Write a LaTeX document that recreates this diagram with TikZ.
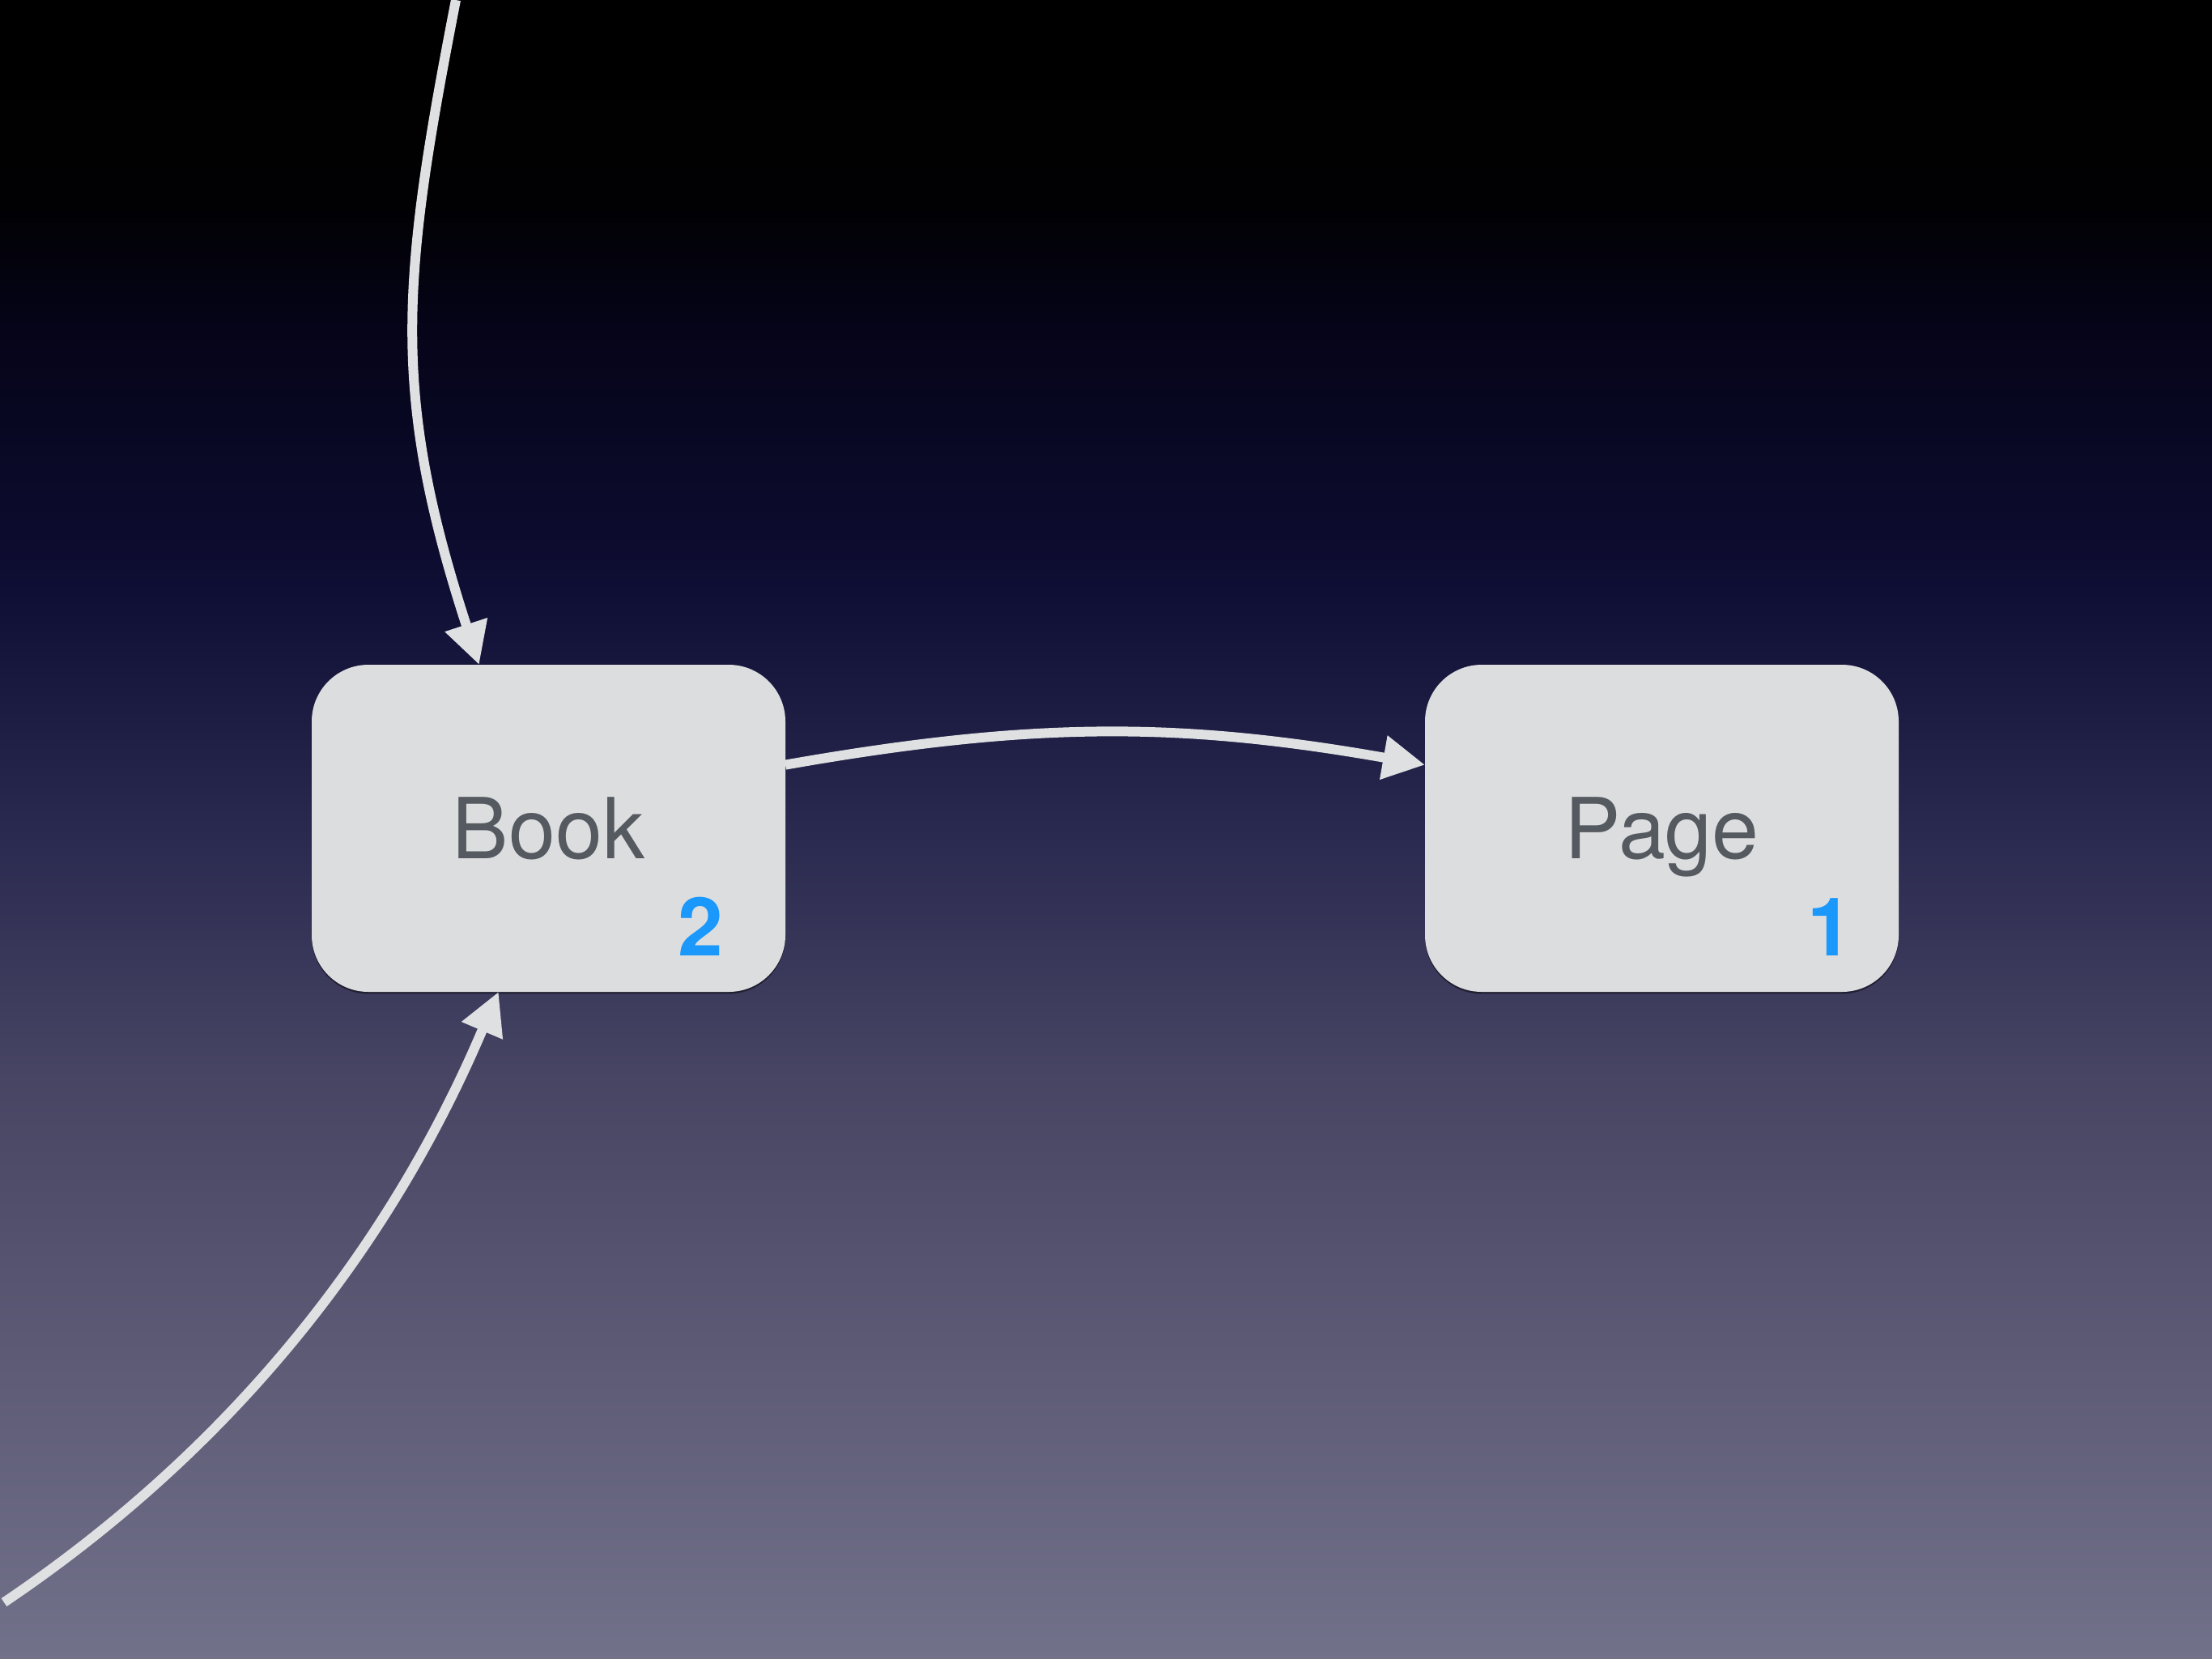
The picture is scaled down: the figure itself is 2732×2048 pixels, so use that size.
\documentclass[tikz,border=0pt]{standalone}
\usepackage{fontspec}
\setmainfont{TeX Gyre Heros}
\usetikzlibrary{arrows.meta,calc,shadows}

% palette
\definecolor{skyTop}{HTML}{000000}
\definecolor{skyA}{HTML}{010103}
\definecolor{skyA2}{HTML}{050418}
\definecolor{skyB}{HTML}{0E0D33}
\definecolor{skyB2}{HTML}{29284F}
\definecolor{skyC}{HTML}{464462}
\definecolor{skyD}{HTML}{5C5A75}
\definecolor{skyE}{HTML}{72718A}
\definecolor{boxgray}{HTML}{DCDDDF}
\definecolor{txtgray}{HTML}{555A60}
\definecolor{numblue}{HTML}{1A98FC}
\definecolor{linegray}{HTML}{DFE0E2}

% night-sky backdrop, bottom (25bp) to top (75bp)
\pgfdeclareverticalshading{nightsky}{100bp}{%
  color(0bp)=(skyE); color(25bp)=(skyE); color(34.2bp)=(skyD);
  color(42.8bp)=(skyC); color(50.1bp)=(skyB2); color(57.4bp)=(skyB);
  color(65.2bp)=(skyA2); color(68.9bp)=(skyA); color(75bp)=(skyTop);
  color(100bp)=(skyTop)}

\tikzset{
  entity/.style={rectangle, rounded corners=17.5pt, fill=boxgray,
    minimum width=146.25pt, minimum height=101pt, inner sep=0pt, outer sep=0pt,
    text=txtgray, font=\fontsize{26}{30}\selectfont,
    text height=18.7pt, text depth=0pt,
    drop shadow={shadow xshift=0pt, shadow yshift=-0.6pt, opacity=0.45,
      fill=black}},
  count/.style={anchor=base east, text=numblue, inner sep=0pt,
    font=\fontsize{25}{30}\selectfont\bfseries},
  link/.style={draw=linegray, line width=3pt,
    -{Triangle[length=13pt,width=13pt]}}
}

\begin{document}
\begin{tikzpicture}[x=0.25pt,y=-0.25pt]
  % page and backdrop
  \useasboundingbox (0,0) rectangle (2732,2048);
  \shade[shading=nightsky] (0,0) rectangle (2732,2048);

  % entities
  \node[entity] (book) at (677.5,1023) {Book};
  \node[entity] (page) at (2052.5,1023) {Page};

  % counts
  \node[count] (bookcount) at ($(book.south east)+(-76,-45)$) {2};
  \node[count] (pagecount) at ($(page.south east)+(-56,-45)$) {1};

  % loose ends of the incoming links
  \coordinate (fromtop) at (563,0);
  \coordinate (frombottom) at (5,1979);

  % links
  \draw[link] (book.15) to[bend left=10] (page.165);
  \draw[link] (fromtop) to[out=-101, in=108, looseness=1.1] (book.113);
  \draw[link] (frombottom) to[out=34, in=247, looseness=0.9] (book.253);
\end{tikzpicture}
\end{document}
